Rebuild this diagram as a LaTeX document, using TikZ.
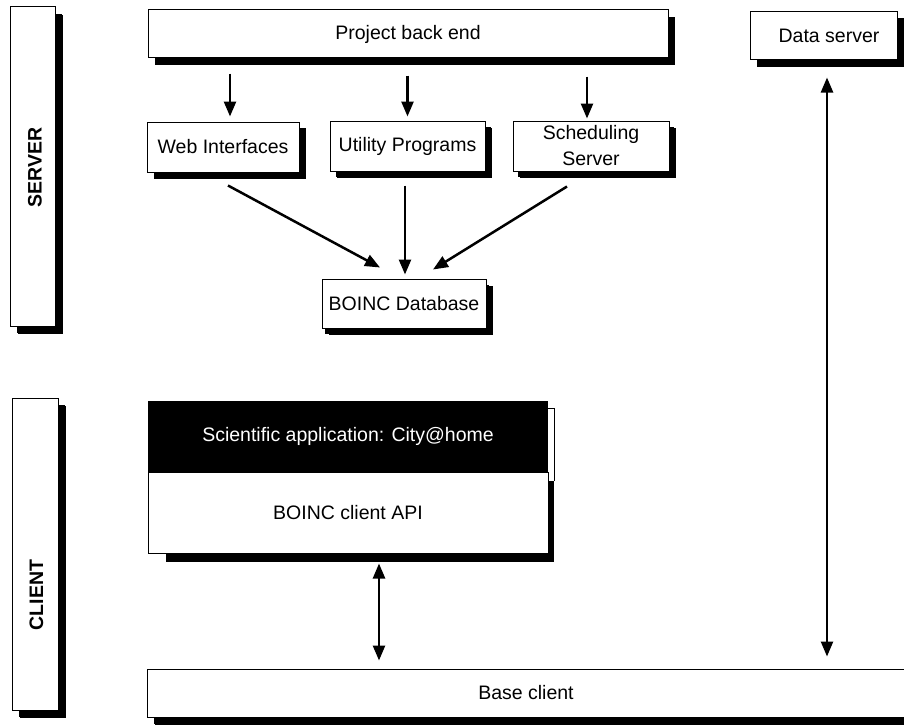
\documentclass[tikz,border=0pt]{standalone}
\usepackage{fontspec}
\setmainfont{Liberation Sans}
\usetikzlibrary{arrows.meta,shadows}
\begin{document}
\begin{tikzpicture}[x=1pt,y=-1pt,
  txt/.style={font=\fontsize{19.5pt}{23pt}\selectfont},
  box/.style={txt, draw=black, line width=1pt, fill=white, inner sep=0pt, align=center,
     drop shadow={shadow xshift=7pt, shadow yshift=-7pt, fill=black, opacity=1}},
  sidebox/.style={box, drop shadow={shadow xshift=8pt, shadow yshift=-8pt, fill=black, opacity=1}},
  arr/.style={line width=2.5pt, -{Triangle[length=15pt,width=12pt]}},
  darr/.style={line width=2.5pt, {Triangle[length=15pt,width=12pt]}-{Triangle[length=15pt,width=12pt]}},
  side/.style={font=\fontsize{19.5pt}{23pt}\selectfont\bfseries, rotate=90, inner sep=0pt}]
\useasboundingbox (0,0) rectangle (904,725);
\fill[white] (0,0) rectangle (904,725);

% side boxes
\node[sidebox, minimum width=45pt, minimum height=319pt] (srv) at (32.5,166.5) {};
\node[side] (srvt) at (35,167.5) {SERVER};
\node[sidebox, minimum width=46pt, minimum height=312pt] (cli) at (35,554) {};
\node[side] (clit) at (36.5,595) {CLIENT};

% server part
\node[box, minimum width=520pt, minimum height=48pt] (pbe) at (408,34) {Project back end};
\node[box, minimum width=147pt, minimum height=48pt, drop shadow={shadow xshift=7pt, shadow yshift=-6pt, fill=black, opacity=1}] (data) at (823.5,36) {\hspace*{11pt}Data server};
\node[box, minimum width=152pt, minimum height=50pt, drop shadow={shadow xshift=7pt, shadow yshift=-6pt, fill=black, opacity=1}] (web) at (223,147) {Web Interfaces};
\node[box, minimum width=155pt, minimum height=50pt, drop shadow={shadow xshift=6pt, shadow yshift=-6pt, fill=black, opacity=1}] (util) at (407.5,146) {Utility Programs};
\node[box, minimum width=156pt, minimum height=50pt, font=\fontsize{19.5pt}{26pt}\selectfont, drop shadow={shadow xshift=5pt, shadow yshift=-6pt, fill=black, opacity=1}] (sched) at (591,146) {Scheduling\\Server};
\node[box, minimum width=164pt, minimum height=49pt, drop shadow={shadow xshift=3pt, shadow yshift=-6pt, fill=black, opacity=1}] (db) at (404,303.5) {BOINC Database};

% client stack
\fill[black] (166,481) rectangle (554,562);
\draw[line width=0.8pt] (548,408) -- (554,408) -- (554,481);
\node[txt, fill=black, text=white, inner sep=0pt, minimum width=400pt, minimum height=71pt] (sci) at (348,436.5) {Scientific application: City@home};
\node[txt, draw=black, line width=1pt, fill=white, inner sep=0pt, minimum width=400pt, minimum height=81pt] (api) at (348,512.5) {BOINC client API};

\node[sidebox, minimum width=763pt, minimum height=48pt] (base) at (528.5,693) {\hspace*{-5pt}Base client};

% connectors
\draw[arr] ([xshift=7pt,yshift=-15pt]pbe.south -| web.north) -- ([xshift=7pt,yshift=5pt]web.north);
\draw[arr] ([yshift=-17pt]pbe.south -| util.north) -- ([yshift=4pt]util.north);
\draw[arr] ([xshift=-4pt,yshift=-18pt]pbe.south -| sched.north) -- ([xshift=-4pt,yshift=2pt]sched.north);

\draw[arr] ([xshift=5pt,yshift=-13pt]web.south) -- ([xshift=-24pt,yshift=11pt]db.north);
\draw[arr] ([xshift=-2.5pt,yshift=-14pt]util.south) -- ([xshift=1pt,yshift=4pt]db.north);
\draw[arr] ([xshift=-24pt,yshift=-15pt]sched.south) -- ([xshift=29pt,yshift=9pt]db.north);

\draw[darr] ([xshift=31pt,yshift=-10pt]api.south) -- ([xshift=31pt,yshift=8pt]api.south |- base.north);
\draw[darr] ([xshift=3.5pt,yshift=-17pt]data.south) -- ([xshift=3.5pt,yshift=12pt]data.south |- base.north);
\end{tikzpicture}
\end{document}
